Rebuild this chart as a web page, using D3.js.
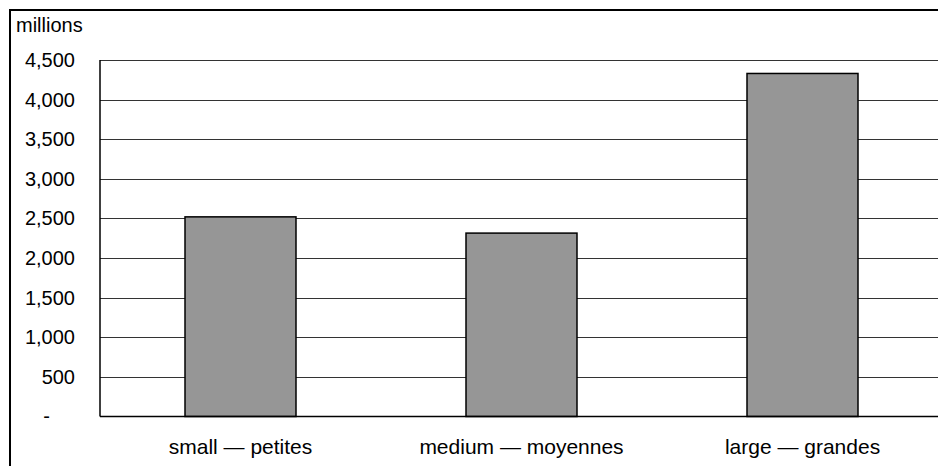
<!DOCTYPE html>
<html><head><meta charset="utf-8">
<script src="https://cdn.jsdelivr.net/npm/d3@7"></script>
<style>body{margin:0;background:#fff}svg{display:block}text{font-family:"Liberation Sans",Arial,sans-serif;fill:#000}</style>
</head><body>
<svg id="c" width="938" height="466"></svg>
<script>
const categories = ["small — petites", "medium — moyennes", "large — grandes"];
const values = [2520, 2315, 4330];
const yTicks = [0, 500, 1000, 1500, 2000, 2500, 3000, 3500, 4000, 4500];
const unitLabel = "millions";

const svg = d3.select("#c");
const m = {left: 100, right: 943, top: 60, bottom: 416.5};
const fs = 20;

svg.append("rect").attr("x", 10).attr("y", 10).attr("width", 960).attr("height", 500)
  .attr("fill", "#fff").attr("stroke", "#000").attr("stroke-width", 2);

const x = d3.scaleBand().domain(categories).range([m.left, m.right]).paddingInner(0.605).paddingOuter(0.3025);
const y = d3.scaleLinear().domain([0, 4500]).range([m.bottom, m.top]);

// gridlines
svg.append("g").selectAll("line").data(yTicks.filter(d => d > 0)).join("line")
  .attr("x1", m.left).attr("x2", m.right)
  .attr("y1", d => Math.round(y(d)) + 0.5).attr("y2", d => Math.round(y(d)) + 0.5)
  .attr("stroke", "#333").attr("stroke-width", 1);

// y axis
const yAxis = d3.axisLeft(y).tickValues(yTicks).tickSize(0).tickPadding(25)
  .tickFormat(d => d === 0 ? "-" : d3.format(",")(d));
const ya = svg.append("g").attr("transform", `translate(${m.left},0)`).call(yAxis);
ya.select(".domain").remove();
ya.selectAll("text").attr("font-size", fs).attr("font-family", '"Liberation Sans",Arial,sans-serif').attr("fill", "#000")
  .attr("dx", d => d === 0 ? -25 : 0);

// bars
svg.append("g").selectAll("rect").data(values).join("rect")
  .attr("x", (d, i) => x(categories[i]))
  .attr("y", d => y(d))
  .attr("width", x.bandwidth())
  .attr("height", d => y(0) - y(d))
  .attr("fill", "#969696").attr("stroke", "#000").attr("stroke-width", 1.5);

// axes lines
svg.append("line").attr("x1", m.left).attr("x2", m.left).attr("y1", m.top).attr("y2", m.bottom)
  .attr("stroke", "#000").attr("stroke-width", 1.5);
svg.append("line").attr("x1", m.left).attr("x2", m.right).attr("y1", m.bottom).attr("y2", m.bottom)
  .attr("stroke", "#000").attr("stroke-width", 1.5);

// x labels
const xAxis = d3.axisBottom(x).tickSize(0).tickPadding(0);
const xa = svg.append("g").attr("transform", `translate(0,${m.bottom})`).call(xAxis);
xa.select(".domain").remove();
xa.selectAll("text").attr("font-size", 21).attr("font-family", '"Liberation Sans",Arial,sans-serif').attr("fill", "#000")
  .attr("y", 454 - m.bottom).attr("dy", 0);

svg.append("text").attr("x", 16).attr("y", 32).attr("font-size", fs).text(unitLabel);
</script>
</body></html>
